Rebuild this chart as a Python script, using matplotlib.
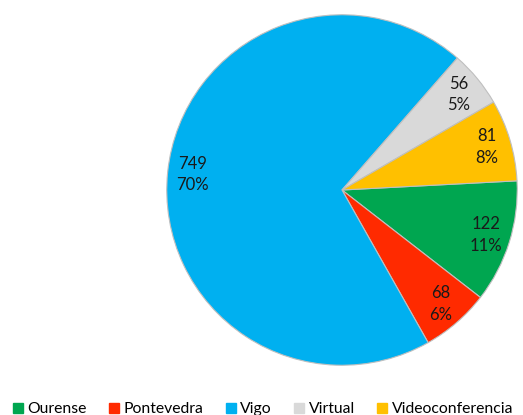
import matplotlib
matplotlib.use('Agg')
import matplotlib.pyplot as plt
from matplotlib.lines import Line2D

# datos del grafico
categorias = ['Ourense', 'Pontevedra', 'Vigo', 'Virtual', 'Videoconferencia']
valores = [122, 68, 749, 56, 81]
colores = ['#00A650', '#FF2A00', '#00B0F0', '#D9D9D9', '#FFC000']

plt.rcParams['font.family'] = ['Lato', 'DejaVu Sans']

fig = plt.figure(figsize=(5.23, 4.15), dpi=100)
ax = fig.add_axes([(342 - 177) / 523, (415 - 367) / 415, 354 / 523, 354 / 415])

total = sum(valores)


def etiqueta(pct):
    n = int(round(pct * total / 100))
    return f'{n}\n{pct:.0f}%'


wedges, texts, autotexts = ax.pie(
    valores, colors=colores, startangle=3, counterclock=False,
    autopct=etiqueta, pctdistance=0.86,
    wedgeprops={'edgecolor': '#BFBFBF', 'linewidth': 0.8},
    textprops={'fontsize': 12, 'color': '#1a1a1a', 'linespacing': 1.4})
ax.set_xlim(-1.01, 1.01)
ax.set_ylim(-1.01, 1.01)

handles = [Line2D([], [], marker='s', linestyle='', markersize=7,
                  markerfacecolor=c, markeredgecolor=c) for c in colores]
fig.legend(handles, categorias, loc='lower center', ncol=5, frameon=False,
           fontsize=11.3, bbox_to_anchor=(0.5, -0.03), handletextpad=0.1,
           columnspacing=1.25, handlelength=1.0, borderaxespad=0.3)

fig.savefig('out.png', dpi=100)
